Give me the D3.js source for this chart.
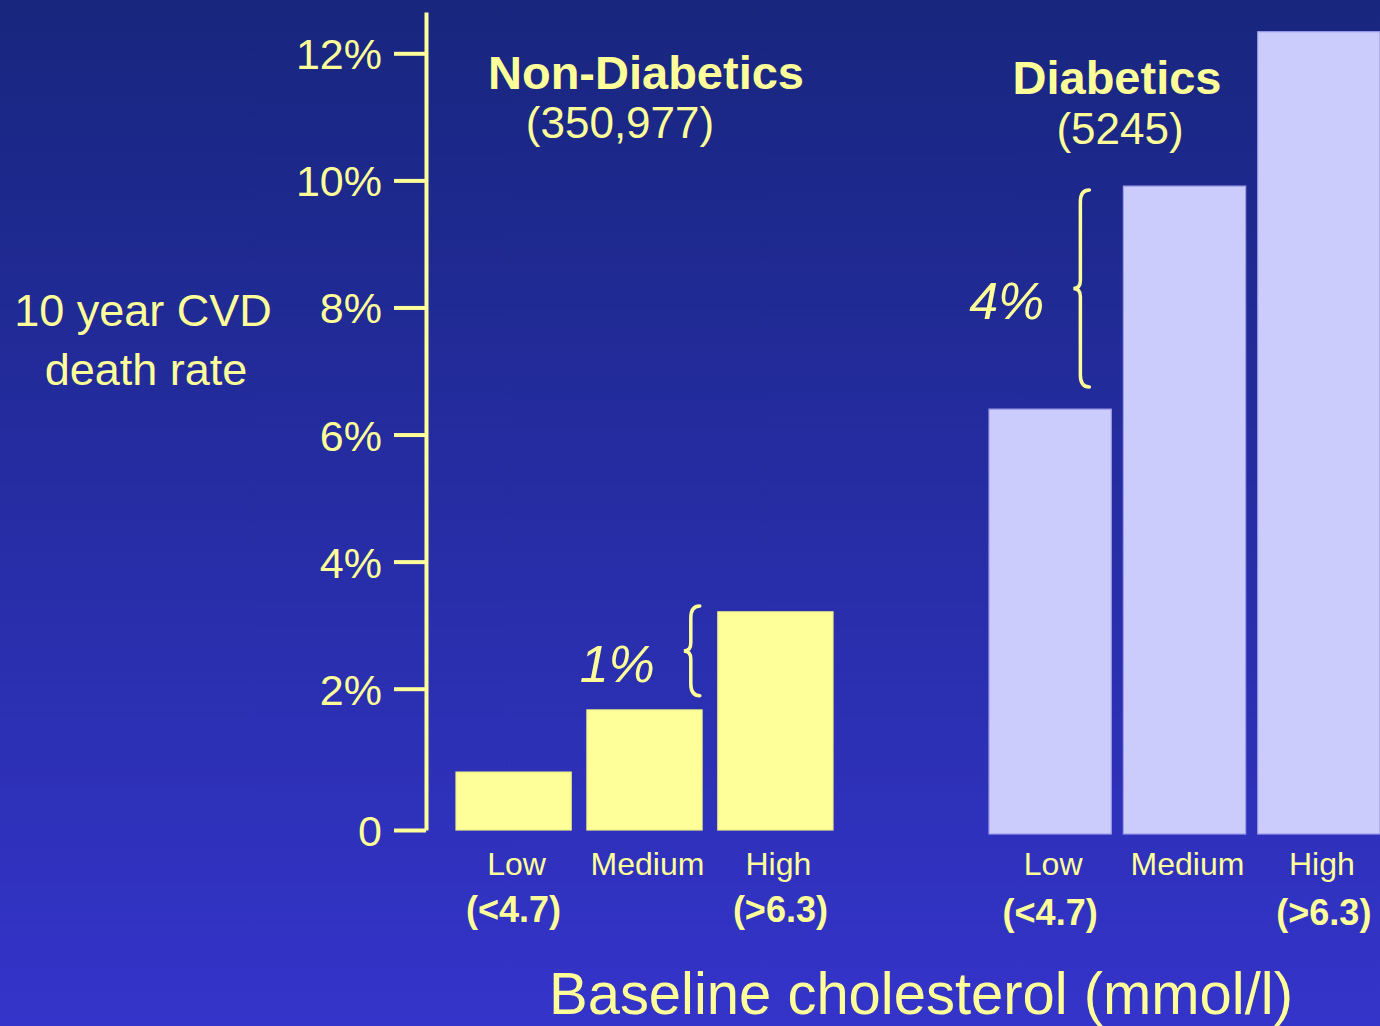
<!DOCTYPE html>
<html>
<head>
<meta charset="utf-8">
<script src="https://cdn.jsdelivr.net/npm/d3@7"></script>
<style>
  html, body { margin: 0; padding: 0; background: #2a30b0; }
  svg { display: block; font-family: "Liberation Sans", Arial, Helvetica, sans-serif; }
</style>
</head>
<body>
<svg id="chart" width="1380" height="1026"></svg>
<script>
// Cholesterol bands and 10-year CVD death rates (%)
const categories = ["Low", "Medium", "High"];
const rangeLabels = ["(<4.7)", "", "(>6.3)"];
const nonDiabetic = [0.82, 1.70, 3.21];
const diabetic = [6.40, 9.91, 12.34];
const yTicks = [0, 2, 4, 6, 8, 10, 12];
const groupTitles = ["Non-Diabetics", "Diabetics"];
const groupCounts = ["(350,977)", "(5245)"];
// Bracketed differences between adjacent bars (value span, label)
const diffGroups = [0, 1];
const diffSpans = [[1.90, 3.30], [6.75, 9.85]];
const diffLabels = ["1%", "4%"];

const W = 1380, H = 1026;
const yellow = "#ffff99";
const svg = d3.select("#chart");

// background gradient
const defs = svg.append("defs");
const grad = defs.append("linearGradient").attr("id", "bg").attr("x1", 0).attr("y1", 0).attr("x2", 0).attr("y2", 1);
grad.append("stop").attr("offset", "0%").attr("stop-color", "#18267e");
grad.append("stop").attr("offset", "100%").attr("stop-color", "#3434ca");
svg.append("rect").attr("width", W).attr("height", H).attr("fill", "url(#bg)");

// y scale: the axis line runs a little above the 12% tick
const y = d3.scaleLinear().domain([0, 2, 12.65]).range([830, 688.7, 12]);

// y axis
const axisX = 426;
const yAxis = d3.axisLeft(y)
  .tickValues(yTicks)
  .tickSize(32)
  .tickSizeOuter(0)
  .tickPadding(12)
  .tickFormat(d => d === 0 ? "0" : d + "%");
const gAxis = svg.append("g").attr("transform", `translate(${axisX},0)`).call(yAxis);
gAxis.select(".domain").attr("stroke", yellow).attr("stroke-width", 4);
gAxis.selectAll(".tick line").attr("stroke", yellow).attr("stroke-width", 4);
gAxis.selectAll(".tick text")
  .attr("fill", yellow)
  .attr("font-size", 43)
  .attr("dy", "0.36em")
  .attr("font-family", "'Liberation Sans', Arial, sans-serif");

// y title
const yTitle = svg.append("text").attr("fill", yellow).attr("font-size", 45).attr("text-anchor", "middle");
yTitle.append("tspan").attr("x", 143).attr("y", 326).text("10 year CVD");
yTitle.append("tspan").attr("x", 146).attr("y", 385).text("death rate");

// panels
const panels = [
  { values: nonDiabetic, range: [456, 833], pad: 0.12, fill: "#ffff99", stroke: "#eeee88",
    titleX: 646, titleY: 89, countX: 620, countY: 138, braceGap: 18 },
  { values: diabetic, range: [989, 1380], pad: 0.09, fill: "#ccccfc", stroke: "#9c9ce8",
    titleX: 1117, titleY: 94, countX: 1120, countY: 144, braceGap: 34 }
];

panels.forEach((p, gi) => {
  const x = d3.scaleBand().domain(categories).range(p.range).paddingInner(p.pad).paddingOuter(0);
  p.x = x;
  const g = svg.append("g");

  g.selectAll("rect.bar")
    .data(categories.map((c, i) => ({ c, v: p.values[i] })))
    .join("rect")
    .attr("class", "bar")
    .attr("x", d => x(d.c))
    .attr("width", x.bandwidth())
    .attr("y", d => y(d.v))
    .attr("height", d => y(0) - y(d.v) + gi * 4)
    .attr("fill", p.fill)
    .attr("stroke", p.stroke)
    .attr("stroke-width", 1.2);

  // category labels
  g.selectAll("text.cat")
    .data(categories)
    .join("text")
    .attr("class", "cat")
    .attr("x", d => x(d) + x.bandwidth() / 2 + 3)
    .attr("y", 875)
    .attr("text-anchor", "middle")
    .attr("fill", yellow)
    .attr("font-size", 32)
    .text(d => d);

  g.selectAll("text.rng")
    .data(categories.map((c, i) => ({ c, t: rangeLabels[i] })).filter(d => d.t))
    .join("text")
    .attr("class", "rng")
    .attr("x", d => x(d.c) + x.bandwidth() / 2 + (d.c === "High" ? 5 : 0))
    .attr("y", 922 + gi * 3)
    .attr("text-anchor", "middle")
    .attr("fill", yellow)
    .attr("font-size", 36)
    .attr("font-weight", "bold")
    .text(d => d.t);

  // group title and size
  g.append("text")
    .attr("x", p.titleX).attr("y", p.titleY)
    .attr("text-anchor", "middle")
    .attr("fill", yellow)
    .attr("font-size", 47)
    .attr("font-weight", "bold")
    .text(groupTitles[gi]);
  g.append("text")
    .attr("x", p.countX).attr("y", p.countY)
    .attr("text-anchor", "middle")
    .attr("fill", yellow)
    .attr("font-size", 44)
    .text(groupCounts[gi]);
});

// left-pointing curly brace
function bracePath(xr, yt, yb) {
  const xs = xr - 9, xt = xr - 16, ym = (yt + yb) / 2;
  return `M${xr},${yt} Q${xs},${yt} ${xs},${yt + 12}` +
         ` L${xs},${ym - 8} Q${xs},${ym} ${xt},${ym}` +
         ` Q${xs},${ym} ${xs},${ym + 8}` +
         ` L${xs},${yb - 12} Q${xs},${yb} ${xr},${yb}`;
}

diffGroups.forEach((gi, k) => {
  const p = panels[gi];
  const xr = p.x("High") - p.braceGap - (gi === 1 ? p.x.step() : 0);
  const yb = y(diffSpans[k][0]), yt = y(diffSpans[k][1]);
  svg.append("path")
    .attr("d", bracePath(xr, yt, yb))
    .attr("fill", "none")
    .attr("stroke", yellow)
    .attr("stroke-width", 3.5)
    .attr("stroke-linecap", "round");
  svg.append("text")
    .attr("x", xr - 16 - 29)
    .attr("y", (yt + yb) / 2 + 31)
    .attr("text-anchor", "end")
    .attr("fill", yellow)
    .attr("font-size", 52)
    .attr("font-style", "italic")
    .text(diffLabels[k]);
});

// x title
svg.append("text")
  .attr("x", 921).attr("y", 1014)
  .attr("text-anchor", "middle")
  .attr("fill", yellow)
  .attr("font-size", 60)
  .attr("textLength", 744)
  .attr("lengthAdjust", "spacingAndGlyphs")
  .text("Baseline cholesterol (mmol/l)");
</script>
</body>
</html>
